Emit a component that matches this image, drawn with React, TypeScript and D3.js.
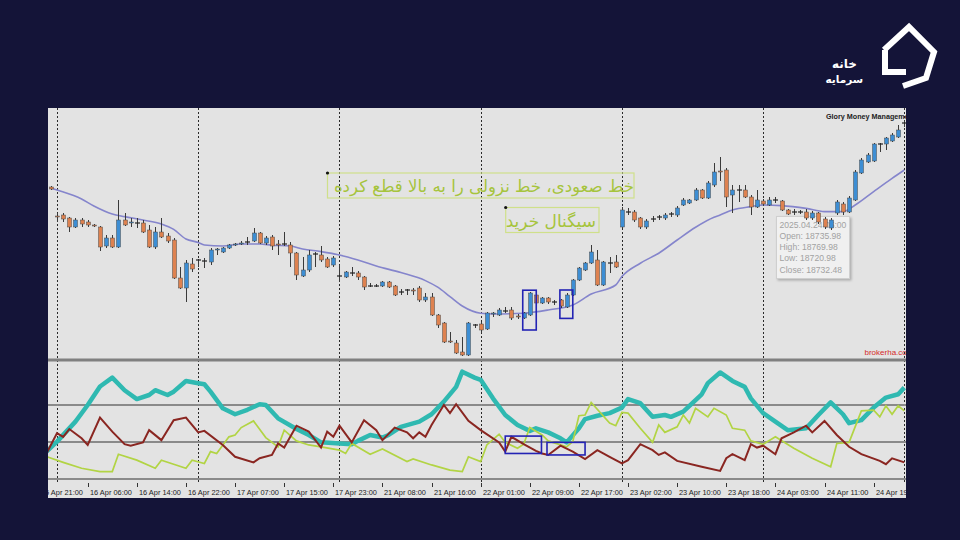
import React from 'react';
import * as d3 from 'd3';

// ---------- DATA ----------
const FIRST_BAR = 2; // index of first visible candle (15 Apr 23:00)
const LAST_BAR = 141;

const open = [
  18865, 18720, 18725, 18710, 18665, 18700, 18690, 18675, 18665, 18570,
  18610, 18565, 18700, 18685, 18685, 18685, 18650, 18565, 18640, 18620,
  18600, 18410, 18360, 18480, 18500, 18495, 18490, 18550, 18540, 18560,
  18575, 18580, 18590, 18595, 18635, 18585, 18615, 18580, 18580, 18575,
  18535, 18420, 18450, 18530, 18525, 18505, 18475, 18420, 18415, 18435,
  18435, 18415, 18370, 18370, 18370, 18390, 18370, 18340, 18350, 18350,
  18360, 18300, 18315, 18225, 18185, 18095, 18085, 18040, 18025, 18175,
  18180, 18155, 18230, 18225, 18245, 18250, 18220, 18210, 18225, 18325,
  18285, 18310, 18290, 18300, 18265, 18325, 18400, 18450, 18485, 18500,
  18375, 18485, 18490, 18665, 18740, 18740, 18710, 18665, 18705, 18715,
  18710, 18730, 18725, 18775, 18785, 18800, 18850, 18810, 18875, 18945,
  18950, 18825, 18850, 18850, 18815, 18765, 18795, 18775, 18800, 18795,
  18750, 18740, 18740, 18740, 18710, 18735, 18705, 18660, 18735, 18780,
  18740, 18800, 18935, 18990, 18995, 19080, 19080, 19095, 19115, 19185,
];
const high = [
  18870, 18735, 18735, 18715, 18710, 18710, 18700, 18680, 18670, 18625,
  18625, 18800, 18735, 18710, 18710, 18700, 18675, 18665, 18710, 18635,
  18610, 18465, 18500, 18510, 18505, 18510, 18560, 18560, 18565, 18580,
  18585, 18595, 18615, 18660, 18640, 18620, 18625, 18600, 18640, 18590,
  18540, 18515, 18550, 18540, 18570, 18515, 18520, 18475, 18445, 18465,
  18445, 18420, 18385, 18380, 18395, 18395, 18375, 18355, 18355, 18360,
  18370, 18335, 18335, 18230, 18190, 18140, 18100, 18115, 18190, 18180,
  18190, 18240, 18240, 18260, 18265, 18265, 18230, 18240, 18340, 18335,
  18315, 18315, 18300, 18305, 18335, 18405, 18465, 18490, 18575, 18550,
  18495, 18515, 18525, 18765, 18760, 18750, 18715, 18705, 18720, 18725,
  18735, 18740, 18770, 18810, 18805, 18860, 18855, 18895, 18985, 19015,
  18960, 18875, 18875, 18875, 18825, 18850, 18805, 18815, 18815, 18800,
  18755, 18755, 18750, 18755, 18745, 18740, 18715, 18710, 18800, 18790,
  18820, 18950, 19010, 19035, 19085, 19085, 19115, 19135, 19175, 19195,
];
const low = [
  18850, 18690, 18690, 18640, 18660, 18665, 18665, 18665, 18545, 18560,
  18560, 18560, 18670, 18665, 18660, 18635, 18560, 18555, 18610, 18585,
  18405, 18355, 18290, 18440, 18465, 18460, 18475, 18525, 18535, 18555,
  18570, 18575, 18575, 18590, 18580, 18575, 18550, 18525, 18570, 18465,
  18400, 18415, 18440, 18465, 18490, 18460, 18465, 18390, 18410, 18420,
  18400, 18350, 18365, 18365, 18365, 18360, 18320, 18325, 18325, 18325,
  18290, 18290, 18220, 18160, 18085, 18085, 18030, 18020, 18020, 18160,
  18135, 18150, 18215, 18220, 18235, 18200, 18205, 18205, 18220, 18275,
  18280, 18280, 18275, 18260, 18260, 18320, 18395, 18445, 18480, 18370,
  18370, 18435, 18460, 18660, 18725, 18690, 18655, 18655, 18690, 18700,
  18700, 18715, 18715, 18770, 18780, 18795, 18805, 18805, 18865, 18895,
  18765, 18735, 18790, 18810, 18725, 18760, 18770, 18770, 18785, 18745,
  18725, 18725, 18730, 18700, 18700, 18680, 18655, 18650, 18725, 18725,
  18735, 18795, 18930, 18985, 18990, 19040, 19050, 19090, 19110, 19165,
];
const close = [
  18855, 18715, 18705, 18665, 18700, 18680, 18675, 18670, 18565, 18610,
  18565, 18700, 18675, 18690, 18685, 18640, 18565, 18640, 18615, 18595,
  18410, 18360, 18485, 18455, 18500, 18495, 18550, 18555, 18560, 18575,
  18580, 18585, 18590, 18635, 18585, 18610, 18570, 18575, 18580, 18535,
  18425, 18450, 18525, 18530, 18500, 18465, 18510, 18420, 18440, 18435,
  18415, 18365, 18370, 18370, 18390, 18365, 18325, 18340, 18350, 18345,
  18300, 18315, 18225, 18175, 18090, 18090, 18035, 18025, 18185, 18175,
  18150, 18235, 18235, 18250, 18245, 18210, 18215, 18235, 18335, 18285,
  18310, 18290, 18290, 18270, 18325, 18400, 18460, 18485, 18540, 18375,
  18490, 18485, 18465, 18750, 18740, 18700, 18665, 18695, 18705, 18715,
  18725, 18730, 18760, 18800, 18800, 18850, 18810, 18885, 18940, 18940,
  18815, 18850, 18850, 18815, 18765, 18800, 18780, 18800, 18800, 18750,
  18730, 18740, 18740, 18710, 18735, 18690, 18665, 18700, 18790, 18740,
  18810, 18940, 19000, 19025, 19080, 19080, 19110, 19125, 19150, 19185,
];

// moving average
const maBar = [2, 3, 7, 9, 12, 14, 17, 20, 22, 24, 26, 27, 30, 33, 36, 38, 41, 43, 46, 49, 52, 55, 59, 63, 65, 67, 69, 72, 74, 79, 83, 87, 90, 94, 95, 98, 101, 104, 107, 110, 111, 113, 116, 118, 121, 125, 128, 131, 133, 136, 139, 141];
const maValue = [18860, 18850, 18805, 18770, 18730, 18717, 18700, 18680, 18653, 18605, 18588, 18575, 18570, 18580, 18580, 18574, 18570, 18555, 18542, 18525, 18500, 18470, 18437, 18397, 18364, 18317, 18270, 18234, 18230, 18234, 18250, 18275, 18330, 18375, 18417, 18484, 18534, 18600, 18664, 18714, 18725, 18750, 18767, 18775, 18772, 18758, 18742, 18742, 18775, 18842, 18908, 18950];

// ADX main line
const adxBar = [1, 3, 6, 8, 10, 12, 14, 16, 18, 19, 21, 22, 24, 26, 27, 28, 30, 32, 34, 36, 37, 39, 42, 44, 46, 49, 51, 52, 54, 56, 57, 59, 62, 64, 66, 68, 69, 71, 72, 74, 76, 78, 80, 81, 83, 85, 86, 88, 89, 91, 93, 95, 96, 98, 100, 102, 103, 105, 108, 109, 111, 113, 115, 116, 118, 120, 122, 125, 127, 129, 131, 132, 134, 136, 138, 140, 141];
const adxValue = [27, 30.1, 35.5, 40, 45, 47.4, 44, 41.6, 42.7, 44, 42.7, 43.6, 46.5, 45.9, 45.6, 43.6, 39.1, 37.5, 38.7, 40.2, 40, 36.4, 33.5, 31.9, 29.9, 29.6, 29.4, 30.3, 31.9, 31.2, 31.9, 34.1, 35.5, 37.5, 40.9, 44.9, 49, 47.4, 46.8, 41.8, 37.3, 34.6, 33, 33.7, 32.6, 31, 29.9, 33.7, 36.2, 37.1, 37.8, 39.3, 41.6, 40.5, 36.8, 37.3, 36.8, 38.2, 42.9, 45.9, 48.8, 46.5, 44.9, 41.8, 37.8, 35.5, 33.2, 33.7, 37.3, 40.7, 37.5, 35.1, 35.9, 39.3, 42, 42.9, 44.7];

// -DI
const minusBar = [1, 3, 4, 5, 7, 8, 10, 12, 14, 15, 17, 18, 20, 22, 24, 26, 27, 30, 32, 35, 36, 38, 39, 40, 42, 44, 46, 47, 48, 49, 51, 53, 55, 56, 58, 60, 61, 62, 63, 64, 66, 67, 68, 70, 72, 75, 76, 77, 79, 81, 82, 83, 85, 87, 89, 91, 93, 95, 96, 98, 100, 101, 102, 104, 108, 111, 112, 113, 115, 116, 117, 118, 120, 121, 123, 125, 126, 128, 130, 132, 134, 137, 138, 139, 141];
const minusValue = [26, 32.4, 31.4, 33.5, 31, 29.2, 36.6, 32.8, 29.4, 29, 29.9, 33.2, 30.5, 35.9, 36.6, 32.6, 33, 29.2, 26, 24.5, 25.6, 26.5, 29.6, 28.5, 34.4, 32.8, 28.5, 32.8, 31.4, 34.4, 29.9, 35.9, 33.2, 30.5, 33.9, 32.6, 31, 32.6, 31.4, 34.6, 40, 37.8, 40.2, 35.7, 33.2, 29.9, 27.4, 31.4, 29.4, 27.6, 26.9, 26.5, 29, 27.4, 25.4, 27.8, 26, 24.2, 25.1, 29.4, 27.8, 26.5, 27.2, 24.9, 23.3, 22.2, 25.6, 26.7, 25.1, 29.4, 28.5, 29, 26.7, 31, 32.6, 34.4, 32.6, 35.7, 31.9, 28.7, 26.7, 24.9, 24, 25.6, 24.5];

// +DI
const plusBar = [1, 4, 7, 10, 12, 13, 16, 19, 20, 22, 24, 25, 27, 28, 29, 31, 32, 33, 35, 37, 39, 40, 42, 44, 46, 49, 50, 51, 54, 56, 60, 61, 64, 67, 69, 70, 72, 73, 75, 76, 78, 79, 80, 82, 83, 86, 87, 88, 89, 90, 93, 94, 95, 96, 98, 100, 101, 102, 104, 105, 106, 107, 109, 110, 112, 113, 115, 116, 118, 120, 123, 126, 129, 130, 132, 134, 136, 137, 138, 139, 140, 141];
const plusValue = [26.2, 24.5, 22.9, 22, 22, 26.7, 25.1, 22.9, 25.1, 24, 22.9, 25.1, 24.2, 27.4, 26.9, 31.4, 31.9, 33.9, 35.7, 31.2, 28.7, 33.2, 30.3, 29.2, 28.7, 27.8, 26.9, 29.6, 26.7, 28.1, 24.7, 25.4, 23.8, 22.4, 22, 26, 24.7, 29.2, 32.1, 29.9, 28.3, 29.4, 33.9, 31.9, 30.3, 28.7, 30.1, 37.1, 37.3, 40.7, 35.1, 34.4, 38, 37.8, 33.7, 29.9, 34.6, 32.6, 34.1, 37.3, 35.1, 39.1, 36.8, 39.1, 37.3, 33.7, 33.2, 30.3, 29.4, 31.4, 28.3, 25.6, 23.3, 29.6, 29.9, 38.4, 38.6, 36.8, 39.8, 37.5, 39.8, 38.4];

const indicatorLevels = [20, 30, 40];

const timeLabels = ['15 Apr 21:00', '16 Apr 06:00', '16 Apr 14:00', '16 Apr 22:00', '17 Apr 07:00', '17 Apr 15:00', '17 Apr 23:00', '21 Apr 08:00', '21 Apr 16:00', '22 Apr 01:00', '22 Apr 09:00', '22 Apr 17:00', '23 Apr 02:00', '23 Apr 10:00', '23 Apr 18:00', '24 Apr 03:00', '24 Apr 11:00', '24 Apr 19:00'];
const LABEL_STEP = 8;
const daySeparatorBars = [3, 26, 49, 72, 95, 118, 141];

const tooltipLines = ['2025.04.24 05:00', 'Open: 18735.98', 'High: 18769.98', 'Low: 18720.98', 'Close: 18732.48'];

// annotation boxes (bar / price space)
const priceBoxes = [
  { b0: 78.85, b1: 81.05, p0: 18349, p1: 18150 },
  { b0: 84.9, b1: 87.0, p0: 18350, p1: 18208 },
];
const indicatorBoxes = [
  { b0: 76.0, b1: 81.9, v0: 31.6, v1: 26.9 },
  { b0: 82.8, b1: 89.0, v0: 29.9, v1: 26.5 },
];

const note1 = 'خط صعودی، خط نزولی را به بالا قطع کرده';
const note2 = 'سیگنال خرید';
const logoLine1 = 'خانه';
const logoLine2 = 'سرمایه';

// ---------- LAYOUT ----------
const PANEL = { left: 48, right: 906, top: 108, bottom: 498 };
const UPPER_BOTTOM = 358;
const LOWER = { top: 362, bottom: 483 };

const BG = '#141438';
const PANEL_BG = '#e3e3e3';
const BULL = '#3d8ed4';
const BEAR = '#de8250';

export default function App() {
  const x = d3.scaleLinear().domain([0, LAST_BAR]).range([38.6, 904.34]);
  const yP = d3.scaleLinear().domain([18010, 19260]).range([UPPER_BOTTOM, PANEL.top]);
  const yI = d3.scaleLinear().domain([20, 40]).range([479, 405]);
  const bw = 4;

  const maLine = d3.line<number>().x((_, i) => x(maBar[i])).y((d) => yP(d)).curve(d3.curveMonotoneX);
  const indLine = (bars: number[]) => d3.line<number>().x((_, i) => x(bars[i])).y((d) => yI(d));

  const candles = open.map((o, k) => {
    const i = k + FIRST_BAR;
    const c = close[k];
    const cx = Math.round(x(i)) + 0.5;
    const top = yP(Math.max(o, c));
    const bot = yP(Math.min(o, c));
    const doji = o === c;
    const fill = c > o ? BULL : BEAR;
    return (
      <g key={i}>
        <line x1={cx} x2={cx} y1={yP(high[k])} y2={yP(low[k])} stroke="#3a3a3a" strokeWidth={1} />
        {doji ? (
          <line x1={cx - bw / 2 - 0.5} x2={cx + bw / 2 + 0.5} y1={top} y2={top} stroke="#222" strokeWidth={1.2} />
        ) : (
          <rect x={cx - bw / 2} y={top} width={bw} height={Math.max(1, bot - top)} fill={fill} stroke="#4a4a4a" strokeWidth={0.5} />
        )}
      </g>
    );
  });

  const labelFont = "'Liberation Sans', Arial, sans-serif";

  return (
    <svg width={960} height={540} style={{ position: 'absolute', left: 0, top: 0 }} xmlns="http://www.w3.org/2000/svg">
      <defs>
        <clipPath id="upperClip">
          <rect x={PANEL.left} y={PANEL.top} width={PANEL.right - PANEL.left} height={UPPER_BOTTOM - PANEL.top} />
        </clipPath>
        <clipPath id="lowerClip">
          <rect x={PANEL.left} y={LOWER.top} width={PANEL.right - PANEL.left} height={LOWER.bottom - LOWER.top} />
        </clipPath>
        <clipPath id="panelClip">
          <rect x={PANEL.left} y={PANEL.top} width={PANEL.right - PANEL.left} height={PANEL.bottom - PANEL.top} />
        </clipPath>
        <filter id="shadow" x="-10%" y="-10%" width="130%" height="130%">
          <feDropShadow dx="1.5" dy="1.5" stdDeviation="1.2" floodColor="#000" floodOpacity="0.25" />
        </filter>
      </defs>

      <rect x={0} y={0} width={960} height={540} fill={BG} />
      <rect x={PANEL.left} y={PANEL.top} width={PANEL.right - PANEL.left} height={PANEL.bottom - PANEL.top} fill={PANEL_BG} />

      {/* day separators */}
      <g clipPath="url(#panelClip)">
        {daySeparatorBars.map((b) => (
          <line key={b} x1={Math.round(x(b)) + 0.5} x2={Math.round(x(b)) + 0.5} y1={PANEL.top} y2={LOWER.bottom} stroke="#2a2a2a" strokeWidth={1} strokeDasharray="2,2" />
        ))}
      </g>

      {/* upper panel */}
      <g clipPath="url(#upperClip)">
        {/* notes */}
        <rect x={327.5} y={173} width={306.5} height={25} fill="none" stroke="#cfe08a" strokeWidth={1.2} />
        <text x={634} y={192} textAnchor="end" fontFamily="'DejaVu Sans', sans-serif" fontSize={16.6} fill="#a6c43c">{note1}</text>
        <circle cx={327.5} cy={173} r={1.6} fill="#111" />
        <rect x={505.7} y={207.5} width={93.3} height={25} fill="none" stroke="#cfe08a" strokeWidth={1.2} />
        <text x={596} y={226.5} textAnchor="end" fontFamily="'DejaVu Sans', sans-serif" fontSize={17} fill="#a6c43c">{note2}</text>
        <circle cx={505.7} cy={207.5} r={1.6} fill="#111" />

        {/* tooltip */}
        <rect x={776.5} y={216.5} width={73} height={62} fill="#f4f4f4" fillOpacity={0.9} stroke="#cfcfcf" strokeWidth={1} filter="url(#shadow)" />
        {tooltipLines.map((t, k) => (
          <text key={t} x={779.5} y={227.5 + k * 11.3} fontFamily={labelFont} fontSize={8.6} fill="#a2a2a2">{t}</text>
        ))}

        <path d={maLine(maValue) || ''} fill="none" stroke="#8585cc" strokeWidth={1.6} />
        {candles}

        {priceBoxes.map((b, k) => (
          <rect key={k} x={x(b.b0)} y={yP(b.p0)} width={x(b.b1) - x(b.b0)} height={yP(b.p1) - yP(b.p0)} fill="none" stroke="#2323b4" strokeWidth={1.6} />
        ))}

        <text x={826} y={118.5} fontFamily={labelFont} fontSize={7.2} fontWeight="bold" fill="#222">Glory Money Management</text>
        <text x={864.5} y={355} fontFamily={labelFont} fontSize={8} fill="#d42a2a">brokerha.com</text>
      </g>

      {/* separator between panels */}
      <line x1={PANEL.left} x2={PANEL.right} y1={360} y2={360} stroke="#808080" strokeWidth={3} />

      {/* lower panel */}
      <g clipPath="url(#lowerClip)">
        {indicatorLevels.map((v) => (
          <line key={v} x1={PANEL.left} x2={PANEL.right} y1={yI(v)} y2={yI(v)} stroke="#8a8a8a" strokeWidth={2} />
        ))}
        <path d={indLine(adxBar)(adxValue) || ''} fill="none" stroke="#2fb9b1" strokeWidth={4.5} strokeLinejoin="round" />
        <path d={indLine(plusBar)(plusValue) || ''} fill="none" stroke="#b2d444" strokeWidth={1.7} />
        <path d={indLine(minusBar)(minusValue) || ''} fill="none" stroke="#8a2621" strokeWidth={2} />
        {indicatorBoxes.map((b, k) => (
          <rect key={k} x={x(b.b0)} y={yI(b.v0)} width={x(b.b1) - x(b.b0)} height={yI(b.v1) - yI(b.v0)} fill="none" stroke="#2323b4" strokeWidth={1.6} />
        ))}
      </g>

      {/* time axis */}
      <g clipPath="url(#panelClip)">
        {timeLabels.map((t, k) => {
          const lx = Math.round(x(k * LABEL_STEP)) + 0.5;
          return (
            <g key={t}>
              <line x1={lx} x2={lx} y1={483} y2={487} stroke="#333" strokeWidth={1} />
              <text x={lx + 1.5} y={494.5} fontFamily={labelFont} fontSize={7.4} fill="#222">{t}</text>
            </g>
          );
        })}
      </g>

      {/* logo */}
      <g>
        <path d="M 884 50 L 909 27 L 934 52 L 926 78 L 903 86" fill="none" stroke="#fff" strokeWidth={6} strokeLinejoin="miter" />
        <path d="M 885 50 L 885 72 L 906 72" fill="none" stroke="#fff" strokeWidth={6} />
        <text x={857} y={68} textAnchor="end" fontFamily="'DejaVu Sans', sans-serif" fontSize={12} fontWeight="bold" fill="#fff">{logoLine1}</text>
        <text x={863} y={83} textAnchor="end" fontFamily="'DejaVu Sans', sans-serif" fontSize={10.5} fontWeight="bold" fill="#fff">{logoLine2}</text>
      </g>
    </svg>
  );
}
